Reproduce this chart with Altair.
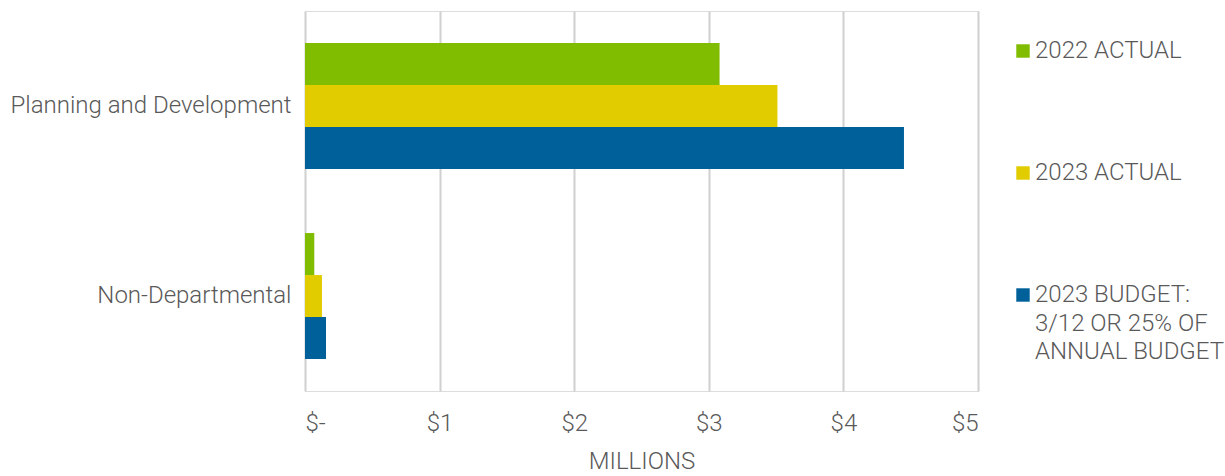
import altair as alt
import pandas as pd

categories = ["Planning and Development", "Non-Departmental"]
series = ["2022 ACTUAL", "2023 ACTUAL", "2023 BUDGET: 3/12 OR 25% OF ANNUAL BUDGET"]
values_2022 = [3.08, 0.069]
values_2023 = [3.51, 0.126]
values_budget = [4.45, 0.156]
colors = ["#80BC00", "#E1CC00", "#00609A"]

rows = []
for i, c in enumerate(categories):
    for s, vals in zip(series, [values_2022, values_2023, values_budget]):
        rows.append({"category": c, "series": s, "value": vals[i]})
df = pd.DataFrame(rows)

font = "Roboto"
txt = "#595959"
fs = 24

chart = alt.Chart(df).mark_bar().encode(
    y=alt.Y("category:N", sort=categories, title=None,
            scale=alt.Scale(paddingInner=0.337, paddingOuter=0.168),
            axis=alt.Axis(ticks=False, domain=False, labelFontSize=fs, labelColor=txt,
                          labelFont=font, labelFontWeight=300, labelPadding=14,
                          minExtent=304, maxExtent=304, labelLimit=400)),
    yOffset=alt.YOffset("series:N", sort=series),
    x=alt.X("value:Q", title="MILLIONS",
            scale=alt.Scale(domain=[0, 5], nice=False),
            axis=alt.Axis(values=[0, 1, 2, 3, 4, 5], ticks=False, domain=False,
                          labelExpr="datum.value == 0 ? '$-' : '$' + datum.value",
                          labelFontSize=fs, labelColor=txt, labelFont=font, labelFontWeight=300,
                          labelPadding=20, gridColor="#D0D0D0", gridWidth=2,
                          titleFontSize=fs, titleColor=txt, titleFont=font, titleFontWeight=300,
                          titlePadding=14)),
    color=alt.Color("series:N", sort=series,
                    scale=alt.Scale(domain=series, range=colors),
                    legend=alt.Legend(title=None, orient="none", legendX=706, legendY=28,
                                      symbolType="square", symbolSize=180, symbolStrokeWidth=0,
                                      labelFontSize=fs, labelColor=txt, labelFont=font,
                                      labelFontWeight=300, rowPadding=98, labelLimit=300,
                                      labelExpr="datum.label == '2023 BUDGET: 3/12 OR 25% OF ANNUAL BUDGET' ? ['2023 BUDGET:', '3/12 OR 25% OF', 'ANNUAL BUDGET'] : datum.label",
                                      labelOffset=0, padding=0)),
).properties(
    width=673, height=380,
    padding={"left": 1, "top": 11, "right": 0, "bottom": 0},
).configure_view(
    stroke="#8C8C8C", strokeWidth=2
).configure(
    background="white",
    style={"guide-label": {"lineHeight": 28.5}},
)

chart.save("out.html", embed_options={"renderer": "svg", "actions": False})
